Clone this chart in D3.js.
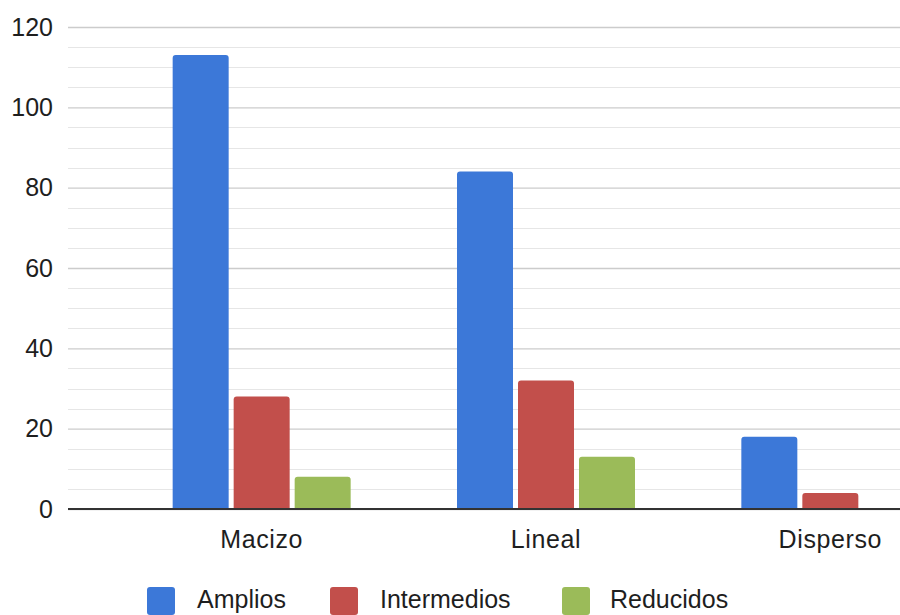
<!DOCTYPE html>
<html><head><meta charset="utf-8">
<script src="https://cdnjs.cloudflare.com/ajax/libs/d3/7.8.5/d3.min.js"></script>
<style>body{margin:0;background:#fff}svg{display:block;font-family:"Liberation Sans",Arial,sans-serif}</style>
</head><body><svg id="c" width="900" height="615"></svg>
<script>
const categories = ["Macizo", "Lineal", "Disperso"];
const seriesNames = ["Amplios", "Intermedios", "Reducidos"];
const amplios = [113, 84, 18];
const intermedios = [28, 32, 4];
const reducidos = [8, 13, 0];
const yTicks = [0, 20, 40, 60, 80, 100, 120];
const colors = ["#3c78d8", "#c24f4b", "#9bbb59"];

const seriesValues = [amplios, intermedios, reducidos];
const svg = d3.select("#c");
const plotLeft = 68, plotRight = 900, plotTop = 27, plotBottom = 509;
const fontFam = '"Liberation Sans",Arial,sans-serif';

const y = d3.scaleLinear().domain([0, 120]).range([plotBottom, plotTop]);
const x0 = d3.scaleBand().domain(categories).range([119.5, 972.5]).padding(0);
const x1 = d3.scaleBand().domain(seriesNames)
  .range([(x0.bandwidth() - 178) / 2, (x0.bandwidth() + 178) / 2])
  .paddingInner(0.082).paddingOuter(0);

// minor grid
const minor = d3.range(0, 121, 5).filter(v => v % 20 !== 0);
svg.append("g").selectAll("line").data(minor).join("line")
  .attr("x1", plotLeft).attr("x2", plotRight)
  .attr("y1", d => Math.round(y(d)) + 0.5).attr("y2", d => Math.round(y(d)) + 0.5)
  .attr("stroke", "#e6e6e6").attr("stroke-width", 1.2);

// y axis with major gridlines
const yAxis = d3.axisLeft(y).tickValues(yTicks).tickSize(-(plotRight - plotLeft)).tickPadding(15);
const gy = svg.append("g").attr("transform", `translate(${plotLeft},0)`).call(yAxis);
gy.select(".domain").remove();
gy.selectAll(".tick line").attr("stroke", "#cccccc").attr("stroke-width", 1.4);
gy.selectAll(".tick text").attr("fill", "#1e1e1e").attr("font-size", 25)
  .attr("font-family", fontFam);

// bars
function topRounded(xp, yp, w, h, r) {
  r = Math.min(r, h, w / 2);
  return `M${xp},${yp + h}V${yp + r}Q${xp},${yp} ${xp + r},${yp}H${xp + w - r}Q${xp + w},${yp} ${xp + w},${yp + r}V${yp + h}Z`;
}
const data = [];
categories.forEach((c, i) => seriesNames.forEach((s, j) => data.push({c, s, j, v: seriesValues[j][i]})));
svg.append("g").selectAll("path").data(data.filter(d => d.v > 0)).join("path")
  .attr("d", d => {
    const xp = x0(d.c) + x1(d.s), yp = y(d.v);
    return topRounded(xp, yp, x1.bandwidth(), plotBottom - yp, 3);
  })
  .attr("fill", d => colors[d.j]);

// baseline
svg.append("line").attr("x1", plotLeft).attr("x2", plotRight).attr("y1", plotBottom).attr("y2", plotBottom)
  .attr("stroke", "#333").attr("stroke-width", 2);

// x axis labels
const xAxis = d3.axisBottom(x0).tickSize(0).tickPadding(21);
const gx = svg.append("g").attr("transform", `translate(0,${plotBottom})`).call(xAxis);
gx.select(".domain").remove();
gx.selectAll(".tick text").attr("fill", "#1e1e1e").attr("font-size", 25)
  .attr("letter-spacing", 0.6).attr("font-family", fontFam);

// legend
const legendX = [147, 330, 562];
const lg = svg.append("g").selectAll("g").data(seriesNames).join("g")
  .attr("transform", (d, i) => `translate(${legendX[i]},587)`);
lg.append("rect").attr("width", 28).attr("height", 28).attr("rx", 3).attr("fill", (d, i) => colors[i]);
lg.append("text").attr("x", (d, i) => i === 2 ? 48 : 50).attr("y", 21).attr("font-size", 25)
  .attr("font-family", fontFam).attr("fill", "#1e1e1e").text(d => d);
</script></body></html>
